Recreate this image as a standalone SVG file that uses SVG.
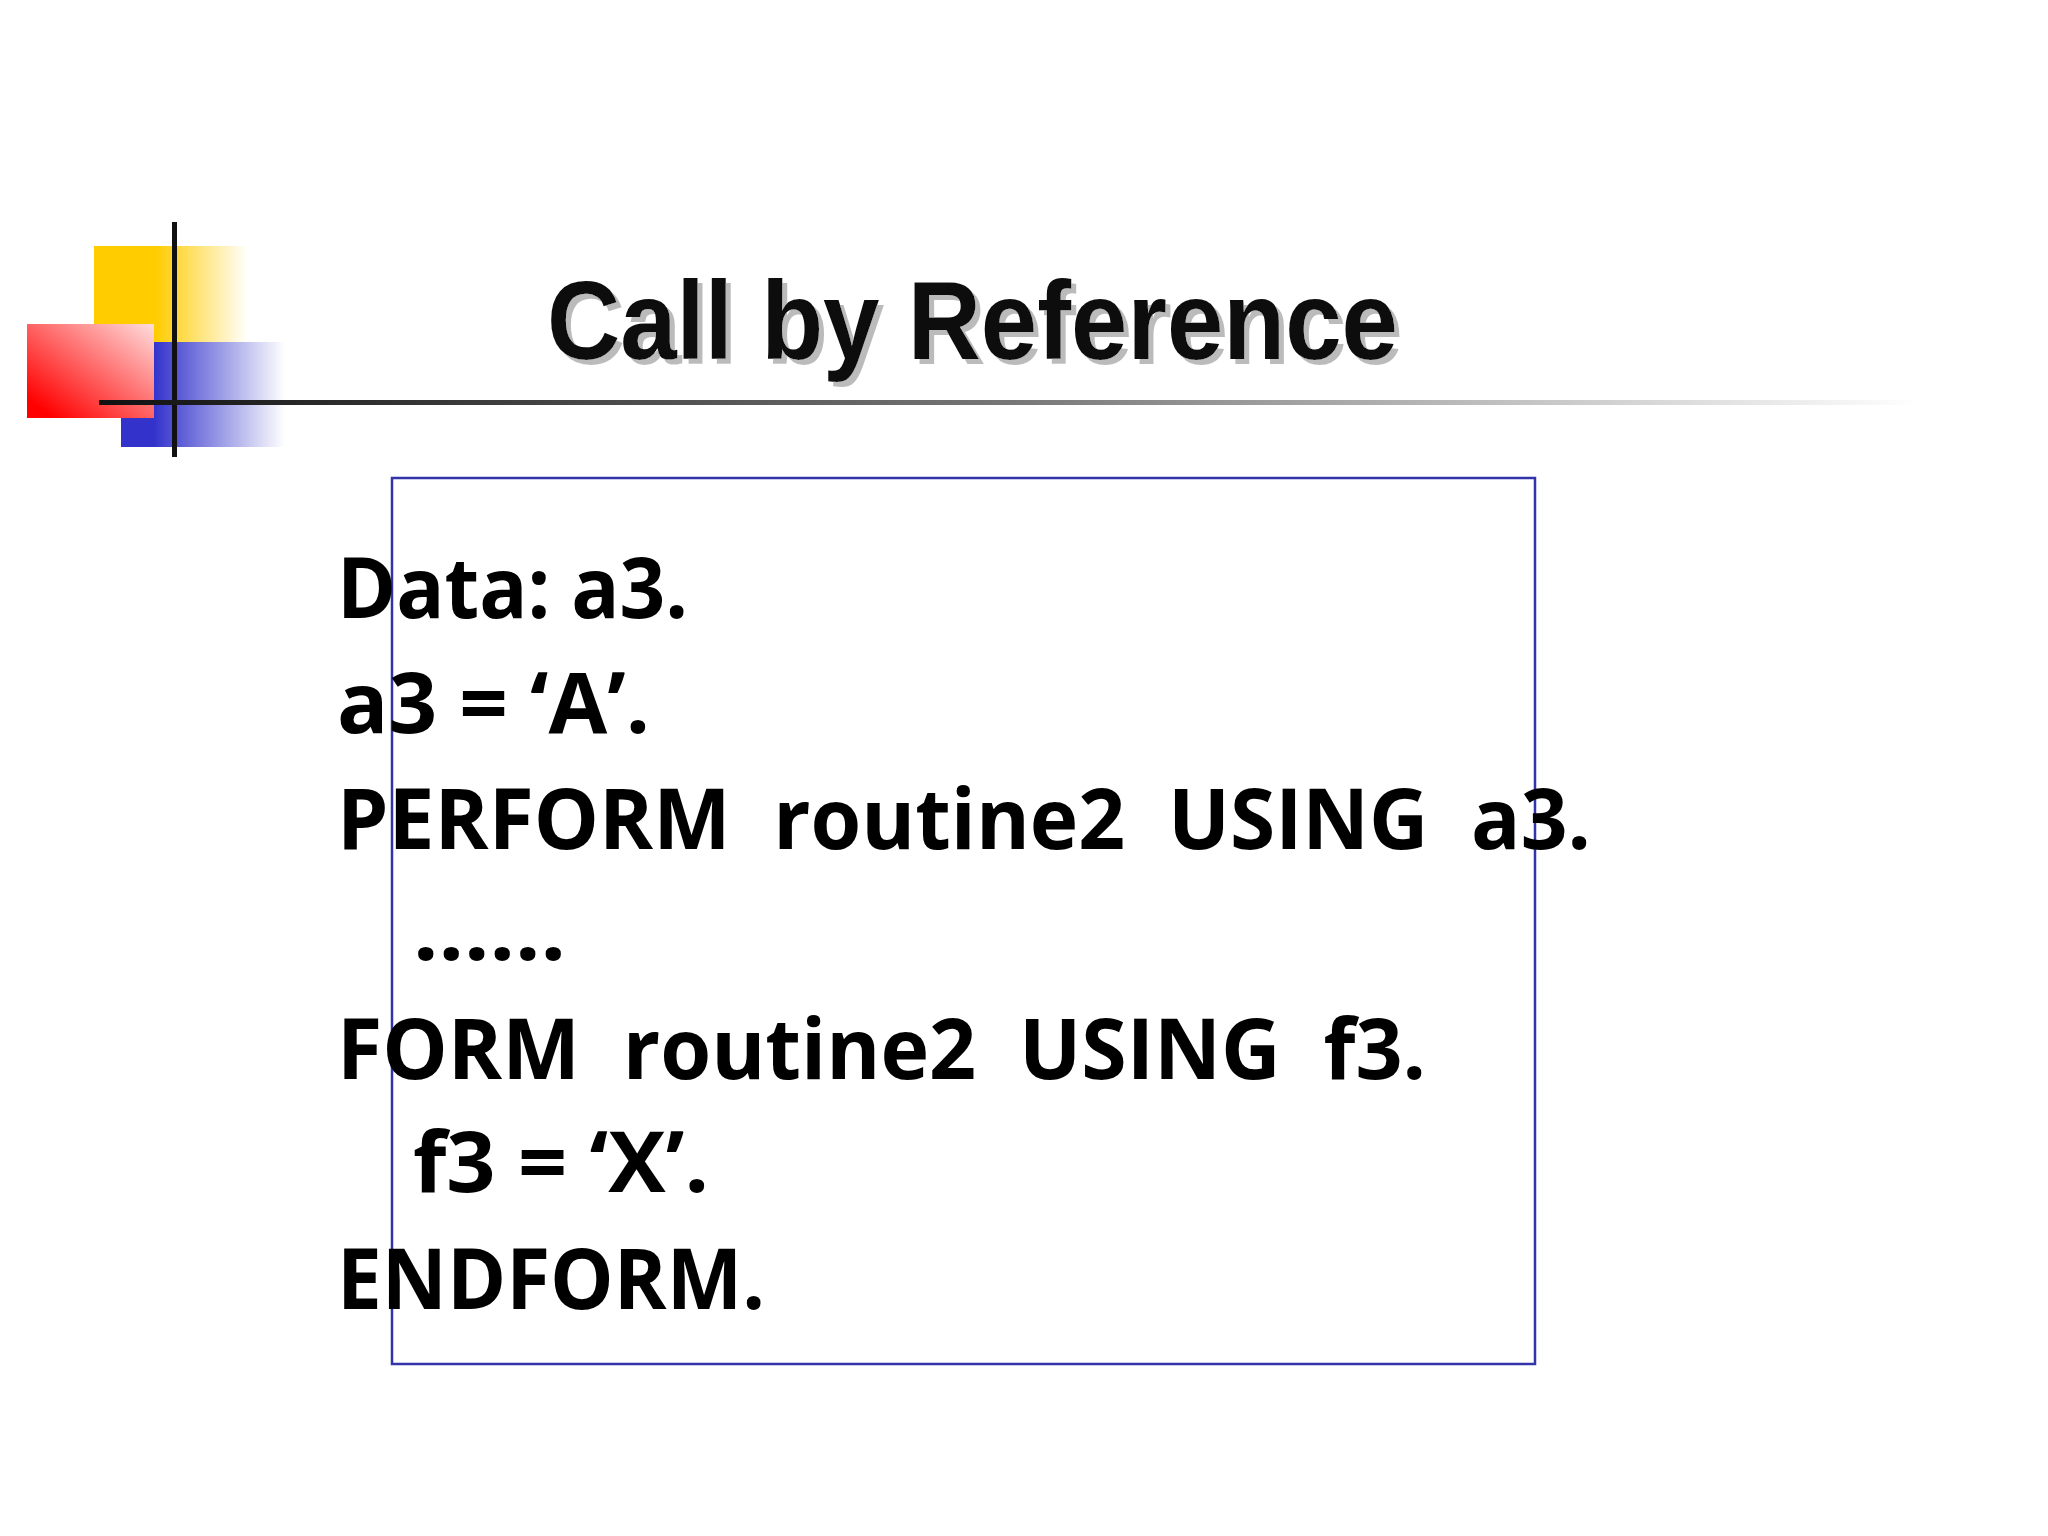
<svg xmlns="http://www.w3.org/2000/svg" width="2048" height="1536" viewBox="0 0 2048 1536">
<defs>
<linearGradient id="gy" x1="0" x2="1" y1="0" y2="0"><stop offset="0.4" stop-color="#ffcc00"/><stop offset="1" stop-color="#ffcc00" stop-opacity="0"/></linearGradient>
<linearGradient id="gb" x1="0" x2="1" y1="0" y2="0"><stop offset="0.2" stop-color="#3333cc"/><stop offset="1" stop-color="#3333cc" stop-opacity="0"/></linearGradient>
<linearGradient id="gr" x1="0" x2="1" y1="1" y2="0"><stop offset="0.1" stop-color="#ff0000"/><stop offset="1" stop-color="#ffdddd"/></linearGradient>
<linearGradient id="gl" x1="0" x2="1" y1="0" y2="0"><stop offset="0" stop-color="#111"/><stop offset="0.5" stop-color="#777"/><stop offset="1" stop-color="#fff"/></linearGradient>
<filter id="sh" x="-5%" y="-20%" width="110%" height="140%"><feDropShadow dx="5" dy="5" stdDeviation="0" flood-color="#bbb"/></filter>
<style>.t{font-family:"Open Sans","DejaVu Sans",sans-serif;font-weight:bold;font-size:84px;fill:#000}</style>
</defs>
<rect width="2048" height="1536" fill="#fff"/>
<g id="logo">
<rect x="94" y="246" width="154" height="96" fill="url(#gy)"/>
<rect x="121" y="342" width="164" height="105" fill="url(#gb)"/>
<rect x="27" y="324" width="127" height="94" fill="url(#gr)"/>
<rect x="172" y="222" width="5" height="235" fill="#111"/>
<rect x="99" y="400" width="1821" height="5" fill="url(#gl)"/>
</g>
<g id="title" font-family="Liberation Sans, Arial, sans-serif" font-weight="bold" font-size="112">
<text x="547" y="359" textLength="851" lengthAdjust="spacingAndGlyphs" fill="#111" filter="url(#sh)">Call by Reference</text>
</g>
<g id="box"><rect x="392" y="478" width="1143" height="886" fill="none" stroke="#3333aa" stroke-width="2.5"/></g>
<g id="code">
<text class="t" x="337" y="618" textLength="351" lengthAdjust="spacingAndGlyphs">Data: a3.</text>
<text class="t" x="337" y="733" textLength="313" lengthAdjust="spacingAndGlyphs">a3 = ‘A’.</text>
<text class="t" x="337" y="849" textLength="1254" lengthAdjust="spacingAndGlyphs" xml:space="preserve">PERFORM  routine2  USING  a3.</text>
<text class="t" x="413" y="960" textLength="153" lengthAdjust="spacingAndGlyphs">……</text>
<text class="t" x="337" y="1079" textLength="1089" lengthAdjust="spacingAndGlyphs" xml:space="preserve">FORM  routine2  USING  f3.</text>
<text class="t" x="413" y="1192" textLength="296" lengthAdjust="spacingAndGlyphs">f3 = ‘X’.</text>
<text class="t" x="337" y="1309" textLength="428" lengthAdjust="spacingAndGlyphs">ENDFORM.</text>
</g>
</svg>
